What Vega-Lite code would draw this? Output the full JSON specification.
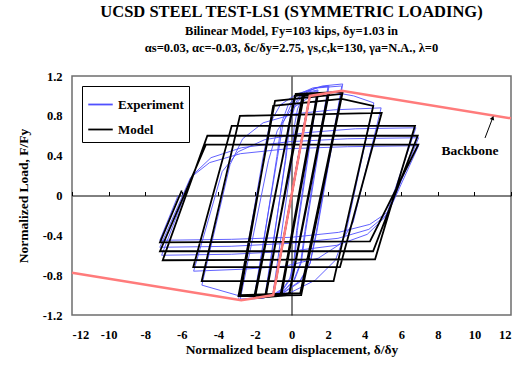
{
  "$schema": "https://vega.github.io/schema/vega-lite/v6.json",
  "width": 439,
  "height": 239,
  "autosize": {"type": "none"},
  "padding": {"left": 72, "top": 76, "right": 7, "bottom": 54},
  "background": "white",
  "title": {
    "text": "UCSD STEEL TEST-LS1 (SYMMETRIC LOADING)",
    "subtitle": ["Bilinear Model, Fy=103 kips, δy=1.03 in", "αs=0.03, αc=-0.03, δc/δy=2.75, γs,c,k=130, γa=N.A., λ=0"],
    "font": "Liberation Serif", "fontSize": 16.5, "fontWeight": "bold", "color": "black",
    "subtitleFont": "Liberation Serif", "subtitleFontSize": 12.5, "subtitleFontWeight": "bold", "subtitleColor": "black",
    "anchor": "middle", "offset": 16, "subtitlePadding": 4, "subtitleLineHeight": 17
  },
  "config": {
    "view": {"stroke": "#6e6e6e", "strokeWidth": 1.5},
    "axis": {"grid": false, "labelFont": "Liberation Serif", "labelFontWeight": "bold", "labelFontSize": 12.5, "labelColor": "black",
      "titleFont": "Liberation Serif", "titleFontWeight": "bold", "titleFontSize": 13.5, "titleColor": "black"}
  },
  "datasets": {
    "model": [
      {"i":1,"x":0,"y":0},{"i":2,"x":0.5,"y":0.5},{"i":3,"x":-0.5,"y":-0.5},{"i":4,"x":0.75,"y":0.75},{"i":5,"x":-0.75,"y":-0.75},
      {"i":6,"x":1,"y":1},{"i":7,"x":-1,"y":-1},{"i":8,"x":1,"y":1},{"i":9,"x":1.4,"y":1.01},{"i":10,"x":-0.6,"y":-1.0},
      {"i":11,"x":-1.4,"y":-1.01},{"i":12,"x":0.6,"y":1.0},{"i":13,"x":1.45,"y":1.02},{"i":14,"x":-0.55,"y":-1.0},{"i":15,"x":-1.45,"y":-1.02},
      {"i":16,"x":0.68,"y":1.0},{"i":17,"x":2.0,"y":1.03},{"i":18,"x":-0.14,"y":-1.0},{"i":19,"x":-2.0,"y":-1.03},
      {"i":20,"x":0.18,"y":1.0},{"i":21,"x":2.05,"y":1.03},{"i":22,"x":-0.13,"y":-1.0},{"i":23,"x":-2.05,"y":-1.03},
      {"i":24,"x":0.23,"y":1.02},{"i":25,"x":2.8,"y":1.04},{"i":26,"x":0.53,"y":-1.0},{"i":27,"x":-2.9,"y":-1.01},
      {"i":28,"x":-0.9,"y":0.95},{"i":29,"x":2.75,"y":1.02},{"i":30,"x":0.48,"y":-0.98},{"i":31,"x":-2.8,"y":-1.0},
      {"i":32,"x":-1.0,"y":0.9},{"i":33,"x":2.75,"y":0.97},{"i":34,"x":4.47,"y":0.9},{"i":35,"x":2.3,"y":-0.86},{"i":36,"x":-4.91,"y":-0.86},
      {"i":37,"x":-2.82,"y":0.8},{"i":38,"x":4.93,"y":0.83},{"i":39,"x":2.65,"y":-0.72},{"i":40,"x":-5.37,"y":-0.72},
      {"i":41,"x":-3.27,"y":0.7},{"i":42,"x":6.75,"y":0.7},{"i":43,"x":4.57,"y":-0.64},{"i":44,"x":-7.04,"y":-0.65},
      {"i":45,"x":-4.6,"y":0.6},{"i":46,"x":6.9,"y":0.6},{"i":47,"x":4.46,"y":-0.56},{"i":48,"x":-7.19,"y":-0.56},
      {"i":49,"x":-4.68,"y":0.51},{"i":50,"x":6.93,"y":0.51},{"i":51,"x":4.29,"y":-0.46},{"i":52,"x":-7.19,"y":-0.47},
      {"i":53,"x":-6.0,"y":0.05}
    ],
    "exp": [
      {"i":1,"x":0,"y":0},{"i":2,"x":0.5,"y":0.52},{"i":3,"x":-0.5,"y":-0.5},{"i":4,"x":0.75,"y":0.78},{"i":5,"x":-0.75,"y":-0.76},
      {"i":6,"x":1.0,"y":0.98},{"i":7,"x":-1.0,"y":-0.97},
      {"i":8,"x":0.03,"y":0.37},{"i":9,"x":0.14,"y":0.68},{"i":10,"x":0.33,"y":0.87},{"i":11,"x":0.61,"y":0.98},{"i":12,"x":0.97,"y":1.03},{"i":13,"x":1.4,"y":1.05},
      {"i":14,"x":0.28,"y":-0.35},{"i":15,"x":0.14,"y":-0.65},{"i":16,"x":-0.09,"y":-0.83},{"i":17,"x":-0.44,"y":-0.93},{"i":18,"x":-0.88,"y":-0.98},{"i":19,"x":-1.4,"y":-1.0},
      {"i":20,"x":-0.33,"y":0.37},{"i":21,"x":-0.18,"y":0.69},{"i":22,"x":0.06,"y":0.88},{"i":23,"x":0.43,"y":0.99},{"i":24,"x":0.9,"y":1.04},{"i":25,"x":1.45,"y":1.06},
      {"i":26,"x":0.32,"y":-0.35},{"i":27,"x":0.17,"y":-0.66},{"i":28,"x":-0.07,"y":-0.84},{"i":29,"x":-0.44,"y":-0.94},{"i":30,"x":-0.9,"y":-0.99},{"i":31,"x":-1.45,"y":-1.01},
      {"i":32,"x":-0.29,"y":0.39},{"i":33,"x":-0.1,"y":0.72},{"i":34,"x":0.21,"y":0.91},{"i":35,"x":0.69,"y":1.02},{"i":36,"x":1.28,"y":1.08},{"i":37,"x":2.0,"y":1.1},
      {"i":38,"x":0.73,"y":-0.36},{"i":39,"x":0.5,"y":-0.67},{"i":40,"x":0.13,"y":-0.85},{"i":41,"x":-0.44,"y":-0.96},{"i":42,"x":-1.15,"y":-1.01},{"i":43,"x":-2.0,"y":-1.03},
      {"i":44,"x":-0.8,"y":0.39},{"i":45,"x":-0.56,"y":0.72},{"i":46,"x":-0.18,"y":0.91},{"i":47,"x":0.42,"y":1.02},{"i":48,"x":1.16,"y":1.08},{"i":49,"x":2.05,"y":1.1},
      {"i":50,"x":0.77,"y":-0.36},{"i":51,"x":0.54,"y":-0.67},{"i":52,"x":0.16,"y":-0.85},{"i":53,"x":-0.43,"y":-0.96},{"i":54,"x":-1.17,"y":-1.01},{"i":55,"x":-2.05,"y":-1.03},
      {"i":56,"x":-0.76,"y":0.39},{"i":57,"x":-0.46,"y":0.73},{"i":58,"x":0.02,"y":0.93},{"i":59,"x":0.76,"y":1.04},{"i":60,"x":1.69,"y":1.1},{"i":61,"x":2.8,"y":1.12},
      {"i":62,"x":1.38,"y":-0.37},{"i":63,"x":1.02,"y":-0.68},{"i":64,"x":0.45,"y":-0.87},{"i":65,"x":-0.45,"y":-0.98},{"i":66,"x":-1.56,"y":-1.03},{"i":67,"x":-2.9,"y":-1.05},
      {"i":68,"x":-1.55,"y":0.39},{"i":69,"x":-1.19,"y":0.72},{"i":70,"x":-0.61,"y":0.91},{"i":71,"x":0.29,"y":1.02},{"i":72,"x":1.41,"y":1.08},{"i":73,"x":2.75,"y":1.1},
      {"i":74,"x":1.36,"y":-0.36},{"i":75,"x":1.01,"y":-0.68},{"i":76,"x":0.45,"y":-0.86},{"i":77,"x":-0.42,"y":-0.97},{"i":78,"x":-1.5,"y":-1.02},{"i":79,"x":-2.8,"y":-1.04},
      {"i":80,"x":-1.26,"y":0.35},{"i":81,"x":-0.78,"y":0.65},{"i":82,"x":0.0,"y":0.87},{"i":83,"x":1.0,"y":0.99},{"i":84,"x":2.2,"y":1.04},{"i":85,"x":3.4,"y":1.0},{"i":86,"x":4.5,"y":0.93},
      {"i":87,"x":3.0,"y":-0.35},{"i":88,"x":2.4,"y":-0.65},{"i":89,"x":1.3,"y":-0.85},{"i":90,"x":0.0,"y":-0.97},{"i":91,"x":-1.6,"y":-1.03},{"i":92,"x":-3.0,"y":-1.0},{"i":93,"x":-4.9,"y":-0.9},
      {"i":94,"x":-3.36,"y":0.31},{"i":95,"x":-2.67,"y":0.57},{"i":96,"x":-1.55,"y":0.73},{"i":97,"x":0.17,"y":0.82},{"i":98,"x":2.32,"y":0.86},{"i":99,"x":4.9,"y":0.88},
      {"i":100,"x":3.37,"y":-0.27},{"i":101,"x":2.64,"y":-0.49},{"i":102,"x":1.46,"y":-0.63},{"i":103,"x":-0.36,"y":-0.71},{"i":104,"x":-2.63,"y":-0.74},{"i":105,"x":-5.35,"y":-0.76},
      {"i":106,"x":-3.79,"y":0.24},{"i":107,"x":-2.91,"y":0.44},{"i":108,"x":-1.47,"y":0.56},{"i":109,"x":0.73,"y":0.63},{"i":110,"x":3.49,"y":0.67},{"i":111,"x":6.8,"y":0.68},
      {"i":112,"x":5.16,"y":-0.21},{"i":113,"x":4.14,"y":-0.39},{"i":114,"x":2.48,"y":-0.5},{"i":115,"x":-0.08,"y":-0.56},{"i":116,"x":-3.27,"y":-0.59},{"i":117,"x":-7.1,"y":-0.6},
      {"i":118,"x":-5.43,"y":0.2},{"i":119,"x":-4.4,"y":0.38},{"i":120,"x":-2.73,"y":0.48},{"i":121,"x":-0.15,"y":0.54},{"i":122,"x":3.08,"y":0.57},{"i":123,"x":6.95,"y":0.58},
      {"i":124,"x":5.27,"y":-0.18},{"i":125,"x":4.23,"y":-0.34},{"i":126,"x":2.54,"y":-0.43},{"i":127,"x":-0.06,"y":-0.48},{"i":128,"x":-3.3,"y":-0.51},{"i":129,"x":-7.2,"y":-0.52},
      {"i":130,"x":-5.52,"y":0.18},{"i":131,"x":-4.48,"y":0.33},{"i":132,"x":-2.79,"y":0.42},{"i":133,"x":-0.19,"y":0.47},{"i":134,"x":3.05,"y":0.49},{"i":135,"x":6.95,"y":0.5},
      {"i":136,"x":5.32,"y":-0.16},{"i":137,"x":4.28,"y":-0.29},{"i":138,"x":2.58,"y":-0.37},{"i":139,"x":-0.03,"y":-0.42},{"i":140,"x":-3.29,"y":-0.44},{"i":141,"x":-7.2,"y":-0.45},
      {"i":142,"x":-6.2,"y":0.0}
    ],
    "backbone": [
      {"i":1,"x":-12,"y":-0.775},{"i":2,"x":-2.75,"y":-1.0525},{"i":3,"x":-1,"y":-1},{"i":4,"x":1,"y":1},{"i":5,"x":2.75,"y":1.0525},{"i":6,"x":12,"y":0.775}
    ],
    "arrow": [{"i":1,"x":10.58,"y":0.578},{"i":2,"x":11.0,"y":0.78}],
    "label": [{"x":9.76,"y":0.447,"t":"Backbone"}]
  },
  "resolve": {"axis": {"x": "independent", "y": "independent"}},
  "layer": [
    {
      "data": {"name": "exp"},
      "transform": [{"calculate": "'Experiment'", "as": "series"}],
      "mark": {"type": "line", "strokeWidth": 0.9, "clip": true},
      "encoding": {
        "x": {"field": "x", "type": "quantitative", "scale": {"domain": [-12, 12], "nice": false},
          "axis": {"orient": "bottom", "values": [-12,-10,-8,-6,-4,-2,0,2,4,6,8,10,12], "labelExpr": "datum.value + ''", "ticks": false, "domain": false,
            "labelPadding": 13, "title": "Normalized beam displacement, δ/δy", "titlePadding": 2}},
        "y": {"field": "y", "type": "quantitative", "scale": {"domain": [-1.2, 1.2], "nice": false},
          "axis": {"orient": "left", "values": [-1.2,-0.8,-0.4,0,0.4,0.8,1.2], "labelExpr": "datum.value + ''", "ticks": false, "domain": false,
            "labelPadding": 10, "title": "Normalized Load, F/Fy", "titlePadding": 12}},
        "order": {"field": "i", "type": "quantitative"},
        "color": {"field": "series", "type": "nominal", "scale": {"domain": ["Experiment", "Model"], "range": ["#5050ff", "#000000"]},
          "legend": {"orient": "top-left", "offset": 10, "title": null, "symbolType": "stroke", "symbolSize": 600, "symbolStrokeWidth": 1.8,
            "labelFont": "Liberation Serif", "labelFontWeight": "bold", "labelFontSize": 13, "labelColor": "black",
            "strokeColor": "black", "fillColor": "white", "padding": 5, "rowPadding": 4}}
      }
    },
    {
      "data": {"name": "model"},
      "transform": [{"calculate": "'Model'", "as": "series"}],
      "mark": {"type": "line", "strokeWidth": 1.8, "clip": true},
      "encoding": {
        "x": {"field": "x", "type": "quantitative", "axis": {"orient": "bottom", "offset": -119.5, "values": [-12,-10,-8,-6,-4,-2,0,2,4,6,8,10,12], "labels": false, "title": null, "domainColor": "black", "tickColor": "black", "tickSize": -4}},
        "y": {"field": "y", "type": "quantitative", "axis": {"orient": "left", "offset": -219.5, "values": [-1.2,-0.8,-0.4,0,0.4,0.8,1.2], "labels": false, "title": null, "domainColor": "black", "ticks": false}},
        "order": {"field": "i", "type": "quantitative"},
        "color": {"field": "series", "type": "nominal"}
      }
    },
    {
      "data": {"name": "backbone"},
      "mark": {"type": "line", "color": "#ff7b7b", "strokeWidth": 2.5},
      "encoding": {
        "x": {"field": "x", "type": "quantitative", "axis": null},
        "y": {"field": "y", "type": "quantitative", "axis": null},
        "order": {"field": "i", "type": "quantitative"}
      }
    },
    {
      "data": {"name": "arrow"},
      "mark": {"type": "line", "color": "black", "strokeWidth": 1},
      "encoding": {
        "x": {"field": "x", "type": "quantitative", "axis": null},
        "y": {"field": "y", "type": "quantitative", "axis": null},
        "order": {"field": "i", "type": "quantitative"}
      }
    },
    {
      "data": {"name": "arrow"},
      "transform": [{"filter": "datum.i == 2"}],
      "mark": {"type": "point", "shape": "triangle-up", "filled": true, "color": "black", "size": 22, "angle": 21, "opacity": 1},
      "encoding": {
        "x": {"field": "x", "type": "quantitative", "axis": null},
        "y": {"field": "y", "type": "quantitative", "axis": null}
      }
    },
    {
      "data": {"name": "label"},
      "mark": {"type": "text", "font": "Liberation Serif", "fontWeight": "bold", "fontSize": 13.5, "color": "black"},
      "encoding": {
        "x": {"field": "x", "type": "quantitative", "axis": null},
        "y": {"field": "y", "type": "quantitative", "axis": null},
        "text": {"field": "t"}
      }
    }
  ]
}
